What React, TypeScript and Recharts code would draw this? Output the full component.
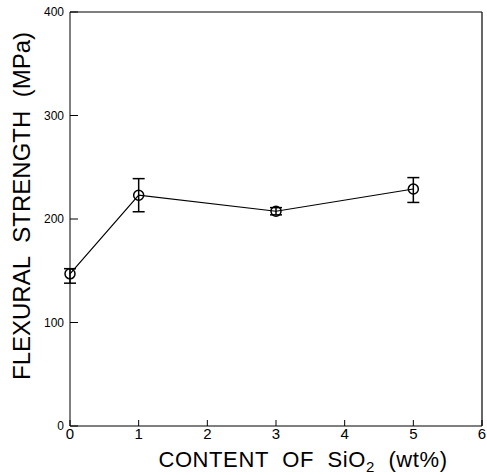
import React from 'react';
import { LineChart, Line, XAxis, YAxis, ErrorBar, ReferenceLine } from 'recharts';

const siContent = [0, 1, 3, 5];
const strength = [147, 223, 207.5, 229];
const errLow = [9, 16, 3.5, 13];
const errHigh = [5, 16, 3.5, 11];
const xTicks = [0, 1, 2, 3, 4, 5, 6];
const yTicks = [0, 100, 200, 300, 400];

const data = siContent.map((x, i) => ({ x, y: strength[i], err: [errLow[i], errHigh[i]] }));

const FONT = '"Liberation Sans", Arial, sans-serif';

const YTitle = () => {
  const cx = 30;
  const cy = 206;
  return (
    <text x={cx} y={cy} transform={`rotate(-90 ${cx} ${cy})`} textAnchor="middle" fontFamily={FONT} fontSize={24} fill="#000">
      {'FLEXURAL\u00A0\u00A0STRENGTH\u00A0\u00A0(MPa)'}
    </text>
  );
};

const XTitle = (props: any) => {
  const vb = props.viewBox || {};
  const cx = vb.x + vb.width / 2 + 27;
  const y = 467;
  return (
    <text x={cx} y={y} textAnchor="middle" fontFamily={FONT} fontSize={22} letterSpacing={0.6} fill="#000">
      <tspan>{'CONTENT\u00A0\u00A0OF\u00A0\u00A0SiO'}</tspan>
      <tspan dy={5} fontSize={15}>2</tspan>
      <tspan dy={-5}>{'\u00A0\u00A0(wt%)'}</tspan>
    </text>
  );
};

export default function App() {
  return (
    <div style={{ position: 'absolute', left: 0, top: 0, background: '#fff' }}>
      <LineChart width={487} height={475} data={data} margin={{ top: 12, right: 5, bottom: 0, left: 0 }}>
        <XAxis
          dataKey="x"
          type="number"
          domain={[0, 6]}
          ticks={xTicks}
          interval={0}
          height={49}
          stroke="#000"
          tickSize={-6}
          tickMargin={8}
          tick={{ fill: '#000', fontSize: 15, fontFamily: FONT }}
          label={<XTitle />}
        />
        <YAxis
          type="number"
          domain={[0, 400]}
          ticks={yTicks}
          interval={0}
          width={70}
          stroke="#000"
          tickSize={-8}
          tickMargin={14}
          tick={{ fill: '#000', fontSize: 12, fontFamily: FONT }}
          label={<YTitle />}
        />
        <ReferenceLine y={400} stroke="#000" strokeWidth={1.2} />
        <ReferenceLine x={6} stroke="#000" strokeWidth={1.2} />
        <Line
          dataKey="y"
          stroke="#000"
          strokeWidth={1.2}
          isAnimationActive={false}
          dot={{ r: 5, stroke: '#000', strokeWidth: 1.5, fill: 'none' }}
          activeDot={false}
        >
          <ErrorBar dataKey="err" width={6} stroke="#000" strokeWidth={1.5} direction="y" />
        </Line>
      </LineChart>
    </div>
  );
}
